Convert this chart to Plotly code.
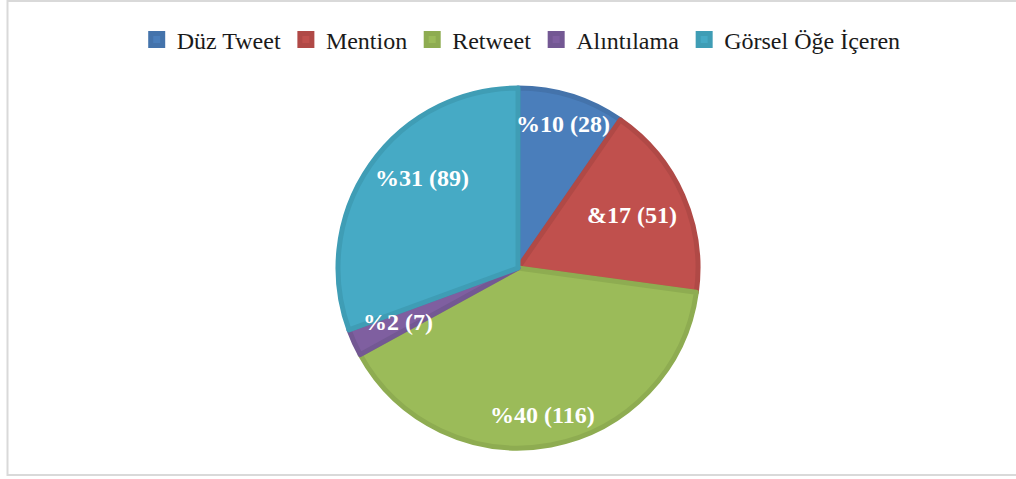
import math
import plotly.graph_objects as go

# Tweet types and counts
categories = ['Düz Tweet', 'Mention', 'Retweet', 'Alıntılama', 'Görsel Öğe İçeren']
counts = [28, 51, 116, 7, 89]
slice_labels = ['%10 (28)', '&17 (51)', '%40 (116)', '%2 (7)', '%31 (89)']

colors = ['#4a7ebb', '#c0504d', '#9bbb59', '#7f5fa0', '#46aac5']
edge_colors = ['#4473ab', '#b04946', '#8eac51', '#735893', '#3f9db5']

W, H = 1016, 479
cx, cy, r = 518, 268, 180
SERIF = 'Liberation Serif, Times New Roman, serif'

# label placement, Excel "best fit" style: fraction of radius and angle nudge (deg)
label_radius = [0.84, 0.70, 0.83, 0.73, 0.73]
label_nudge = [0, -1, 1, 0, 8]

fig = go.Figure()

fig.add_trace(go.Pie(
    labels=categories,
    values=counts,
    textinfo='none',
    sort=False,
    direction='clockwise',
    rotation=0,
    marker=dict(colors=colors, line=dict(color=edge_colors, width=5)),
    domain=dict(x=[(cx - r) / W, (cx + r) / W], y=[1 - (cy + r) / H, 1 - (cy - r) / H]),
    hoverinfo='label+value+percent',
))

# slice labels placed along the middle angle of each slice
total = sum(counts)
start = 0
for val, txt, fr, nudge in zip(counts, slice_labels, label_radius, label_nudge):
    mid = (start + val / 2) / total * 2 * math.pi + math.radians(nudge)
    start += val
    px = cx + fr * r * math.sin(mid)
    py = cy - fr * r * math.cos(mid)
    fig.add_annotation(
        x=px / W, y=1 - py / H, xref='paper', yref='paper',
        xanchor='center', yanchor='middle',
        text=f'<b>{txt}</b>', showarrow=False,
        font=dict(family=SERIF, size=24, color='white'),
    )

# light frame around the chart area
fig.add_shape(type='rect', xref='paper', yref='paper',
              x0=7.5 / W, x1=1030 / W, y0=1 - 475 / H, y1=1 - 1 / H,
              line=dict(color='#d9d9d9', width=2))

fig.update_layout(
    width=W, height=H,
    margin=dict(l=0, r=0, t=0, b=0),
    paper_bgcolor='white',
    plot_bgcolor='white',
    font=dict(family=SERIF, size=24, color='#1a1a1a'),
    showlegend=True,
    legend=dict(
        orientation='h',
        x=0.513, xanchor='center',
        y=1 - 40 / H, yanchor='middle',
        font=dict(family=SERIF, size=24),
        itemwidth=30,
    ),
)

fig.write_html('out.html', config={'displayModeBar': False},
               post_script="document.body.style.margin='0';document.body.style.overflow='hidden';")
